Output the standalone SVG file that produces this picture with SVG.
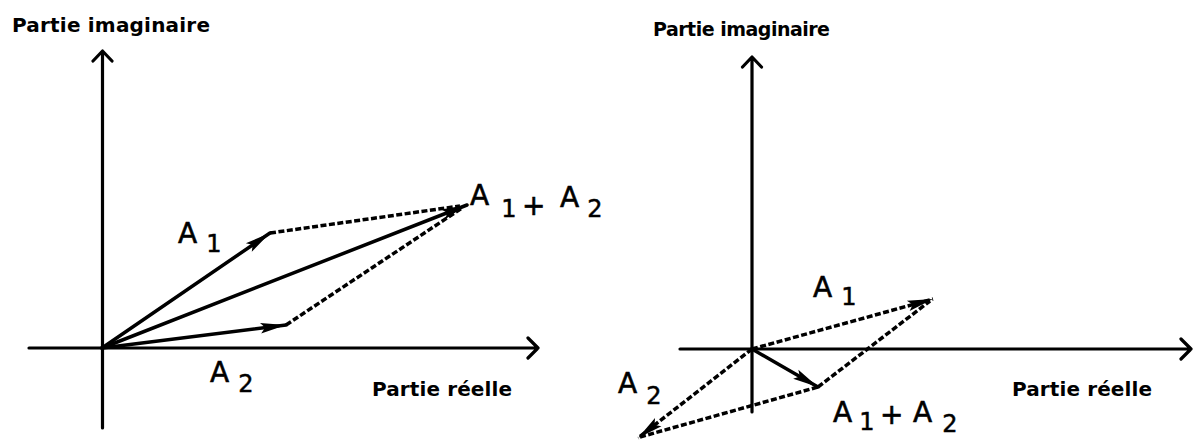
<svg xmlns="http://www.w3.org/2000/svg" width="1197" height="441" viewBox="0 0 1197 441">
<style>
.ax{stroke:#000;stroke-width:3.2;fill:none;stroke-linecap:round;stroke-linejoin:round}
.v{stroke:#000;stroke-width:3.5;fill:none;stroke-linecap:round}
.d{stroke:#000;stroke-width:3.5;fill:none;stroke-dasharray:6 2.5}
.t{font-family:"DejaVu Sans",sans-serif;font-weight:bold;fill:#000}
.l{font-family:"DejaVu Sans",sans-serif;font-size:28px;fill:#000;stroke:#000;stroke-width:0.6}
.s{font-family:"DejaVu Sans",sans-serif;font-size:24px;fill:#000;stroke:#000;stroke-width:0.5;text-anchor:middle}
</style>
<defs>
<marker id="ah" markerUnits="userSpaceOnUse" markerWidth="26" markerHeight="14" refX="22" refY="6" orient="auto" viewBox="0 0 22 12">
<path d="M0,1.5 L22,6 L0,10.5 L4,6 Z" fill="#000"/>
</marker>
</defs>
<g id="left-axes">
<path class="ax" d="M102.5,428 V51 M93,61 L102.5,51 L112,61"/>
<path class="ax" d="M29,348 H538 M528,338 L538,348 L528,358"/>
<text class="t" x="12" y="32" font-size="20" textLength="198">Partie imaginaire</text>
<text class="t" x="372" y="396" font-size="20" textLength="140">Partie réelle</text>
</g>
<g id="right-axes">
<path class="ax" d="M752,412 V57 M742.5,67 L752,57 L761.5,67"/>
<path class="ax" d="M680,349 H1191 M1181,339 L1191,349 L1181,359"/>
<text class="t" x="653" y="36" font-size="19" textLength="177">Partie imaginaire</text>
<text class="t" x="1012" y="396" font-size="20" textLength="140">Partie réelle</text>
</g>
<g id="connectors">
<line class="v" x1="102" y1="348" x2="270" y2="233" marker-end="url(#ah)"/>
<line class="v" x1="102" y1="348" x2="286" y2="325" marker-end="url(#ah)"/>
<line class="v" x1="102" y1="348" x2="467" y2="205" marker-end="url(#ah)"/>
<line class="d" x1="270" y1="233" x2="460" y2="206"/>
<line class="d" x1="286" y1="325" x2="462" y2="208"/>
<line class="d" x1="752" y1="349" x2="933" y2="299" marker-end="url(#ah)"/>
<line class="d" x1="752" y1="349" x2="638" y2="438" marker-end="url(#ah)"/>
<line class="v" x1="752" y1="349" x2="818" y2="387" marker-end="url(#ah)"/>
<line class="d" x1="640" y1="437" x2="818" y2="387"/>
<line class="d" x1="818" y1="387" x2="930" y2="301"/>
</g>
<g id="label-left-A1"><text class="l" x="178" y="243">A</text><text class="s" x="214" y="252">1</text></g>
<g id="label-left-A2"><text class="l" x="210" y="382">A</text><text class="s" x="246" y="392">2</text></g>
<g id="label-left-sum"><text class="l" x="470" y="205">A</text><text class="s" x="509" y="217">1</text><text class="l" x="522" y="215" font-size="22">+</text><text class="l" x="560" y="207">A</text><text class="s" x="595" y="217">2</text></g>
<g id="label-right-A1"><text class="l" x="813" y="297">A</text><text class="s" x="849" y="305">1</text></g>
<g id="label-right-A2"><text class="l" x="618" y="393">A</text><text class="s" x="654" y="404">2</text></g>
<g id="label-right-sum"><text class="l" x="833" y="422">A</text><text class="s" x="867" y="430">1</text><text class="l" x="880" y="424" font-size="24">+</text><text class="l" x="913" y="422">A</text><text class="s" x="950" y="432">2</text></g>
</svg>
